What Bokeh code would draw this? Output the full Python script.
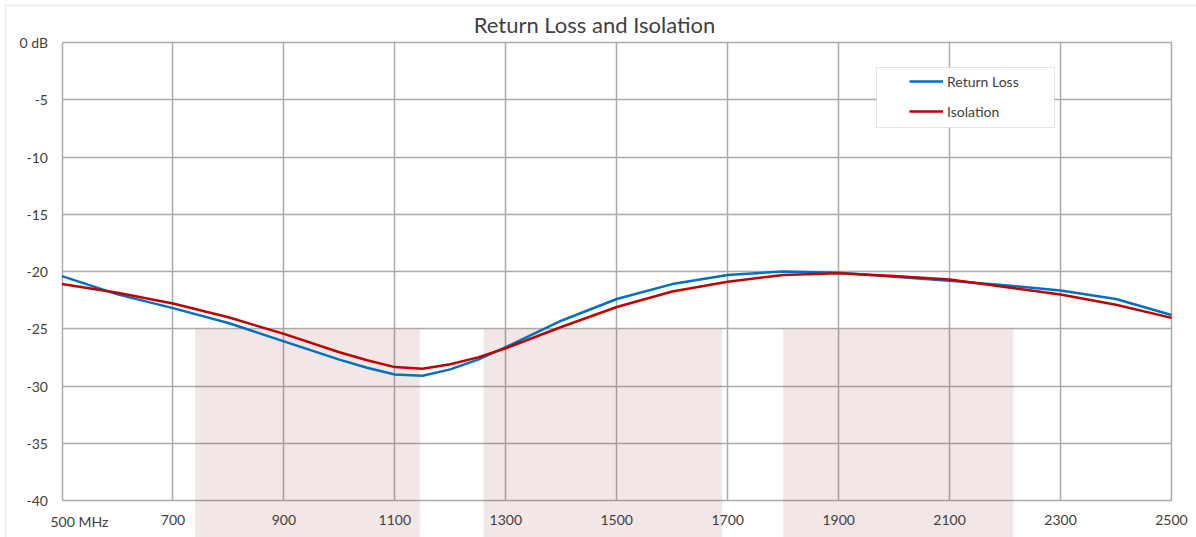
from bokeh.plotting import figure
from bokeh.models import FixedTicker, Range1d, Legend, LegendItem, BoxAnnotation, Label
from bokeh.embed import file_html
from bokeh.resources import INLINE

# ---------------- data ----------------
title_text = "Return Loss and Isolation"
freq = [500, 600, 700, 800, 900, 1000, 1050, 1100, 1150, 1200, 1250, 1300,
        1400, 1500, 1600, 1700, 1800, 1900, 2000, 2100, 2200, 2300, 2400, 2500]
return_loss = [-20.4, -22.0, -23.2, -24.5, -26.1, -27.7, -28.4, -29.0, -29.1, -28.55, -27.7, -26.6,
               -24.3, -22.4, -21.1, -20.3, -20.0, -20.1, -20.45, -20.8, -21.2, -21.65, -22.4, -23.8]
isolation = [-21.1, -21.85, -22.8, -24.0, -25.45, -27.05, -27.75, -28.35, -28.5, -28.1, -27.5, -26.7,
             -24.85, -23.1, -21.75, -20.9, -20.3, -20.15, -20.4, -20.7, -21.35, -22.0, -22.9, -24.05]
band_start = [740, 1260, 1800]
band_end = [1145, 1690, 2215]
band_top = [-25, -25, -25]
x_ticks = [500, 700, 900, 1100, 1300, 1500, 1700, 1900, 2100, 2300, 2500]
x_tick_labels = ["500 MHz", "700", "900", "1100", "1300", "1500", "1700", "1900", "2100", "2300", "2500"]
y_ticks = [0, -5, -10, -15, -20, -25, -30, -35, -40]
y_tick_labels = ["0 dB", "-5", "-10", "-15", "-20", "-25", "-30", "-35", "-40"]
series_names = ["Return Loss", "Isolation"]

# ---------------- layout (pixel constants) ----------------
W, H = 1196, 537
X_LO, X_HI = x_ticks[0], x_ticks[-1]
Y_LO, Y_HI = y_ticks[-1], y_ticks[0]
PX_X_LO, PX_X_HI = 61.5, 1171.0      # px of X_LO / X_HI
PX_Y_HI, PX_Y_LO = 42.0, 500.0       # px of Y_HI / Y_LO
mx = (X_HI - X_LO) / (PX_X_HI - PX_X_LO)
my = (Y_HI - Y_LO) / (PX_Y_LO - PX_Y_HI)


def px2x(px):
    return X_LO + (px - PX_X_LO) * mx


def px2y(py):
    return Y_HI - (py - PX_Y_HI) * my


x_range = Range1d(px2x(0), px2x(W))
y_range = Range1d(px2y(H), px2y(0))

FONT = "Lato"
TXT = "#404040"
GRID = "#ababab"

p = figure(width=W, height=H, x_range=x_range, y_range=y_range,
           output_backend="svg", toolbar_location=None, tools="",
           min_border=0,
           background_fill_color="white", border_fill_color="white",
           outline_line_color=None)

# outer chart border (top / left visible)
p.add_layout(BoxAnnotation(left=px2x(5), right=px2x(W + 30), top=px2y(5), bottom=px2y(H + 30),
                           fill_color=None, line_color="#bdbdbd", line_width=1.5))

# title
p.add_layout(Label(x=px2x(594), y=px2y(24), text=title_text, text_align="center",
                   text_baseline="middle", text_font=FONT, text_font_size="22px",
                   text_color=TXT))

# axes fixed inside the frame
xa = p.xaxis[0]
xa.fixed_location = Y_LO
xa.ticker = FixedTicker(ticks=x_ticks)
# first label is placed left-aligned beside the axis corner (as in the original)
xa.major_label_overrides = dict(zip(x_ticks, [""] + x_tick_labels[1:]))
ya = p.yaxis[0]
ya.fixed_location = X_LO
ya.ticker = FixedTicker(ticks=y_ticks)
ya.major_label_overrides = dict(zip(y_ticks, y_tick_labels))
for ax in (xa, ya):
    ax.axis_line_color = None
    ax.major_tick_line_color = None
    ax.minor_tick_line_color = None
    ax.major_tick_out = 0
    ax.major_tick_in = 0
    ax.major_label_text_font = FONT
    ax.major_label_text_font_size = "14px"
    ax.major_label_text_color = TXT
xa.major_label_standoff = 14
ya.major_label_standoff = 14

p.add_layout(Label(x=px2x(50), y=px2y(521), text=x_tick_labels[0], text_align="left",
                   text_baseline="middle", text_font=FONT, text_font_size="14px",
                   text_color=TXT))

# grid
p.xgrid.ticker = FixedTicker(ticks=x_ticks)
p.ygrid.ticker = FixedTicker(ticks=y_ticks)
p.xgrid.bounds = (X_LO, X_HI)
p.ygrid.bounds = (Y_LO, Y_HI)
p.xgrid.cross_bounds = (Y_LO, Y_HI)
p.ygrid.cross_bounds = (X_LO, X_HI)
for g in (p.xgrid, p.ygrid):
    g.grid_line_color = GRID
    g.grid_line_width = 1.5

# frequency bands (extend below the chart bottom)
p.quad(left=band_start, right=band_end, top=band_top, bottom=y_range.start,
       fill_color="#993333", fill_alpha=0.12, line_color=None)

r_rl = p.line(freq, return_loss, line_color="#0070c0", line_width=2.5)
r_iso = p.line(freq, isolation, line_color="#c00000", line_width=2.5)

# legend box
p.add_layout(BoxAnnotation(left=px2x(876), right=px2x(1054), top=px2y(67), bottom=px2y(127),
                           fill_color="white", fill_alpha=1.0, line_color="#a6a6a6", line_width=1))

legend = Legend(items=[LegendItem(label=series_names[0], renderers=[r_rl]),
                       LegendItem(label=series_names[1], renderers=[r_iso])],
                location=(909, 416), padding=5, spacing=10, margin=0,
                glyph_width=34, glyph_height=20, label_height=20, label_standoff=4,
                label_text_font=FONT, label_text_font_size="14px", label_text_color=TXT,
                background_fill_alpha=0, border_line_color=None)
p.add_layout(legend)

open("out.html", "w").write(file_html(p, INLINE))
